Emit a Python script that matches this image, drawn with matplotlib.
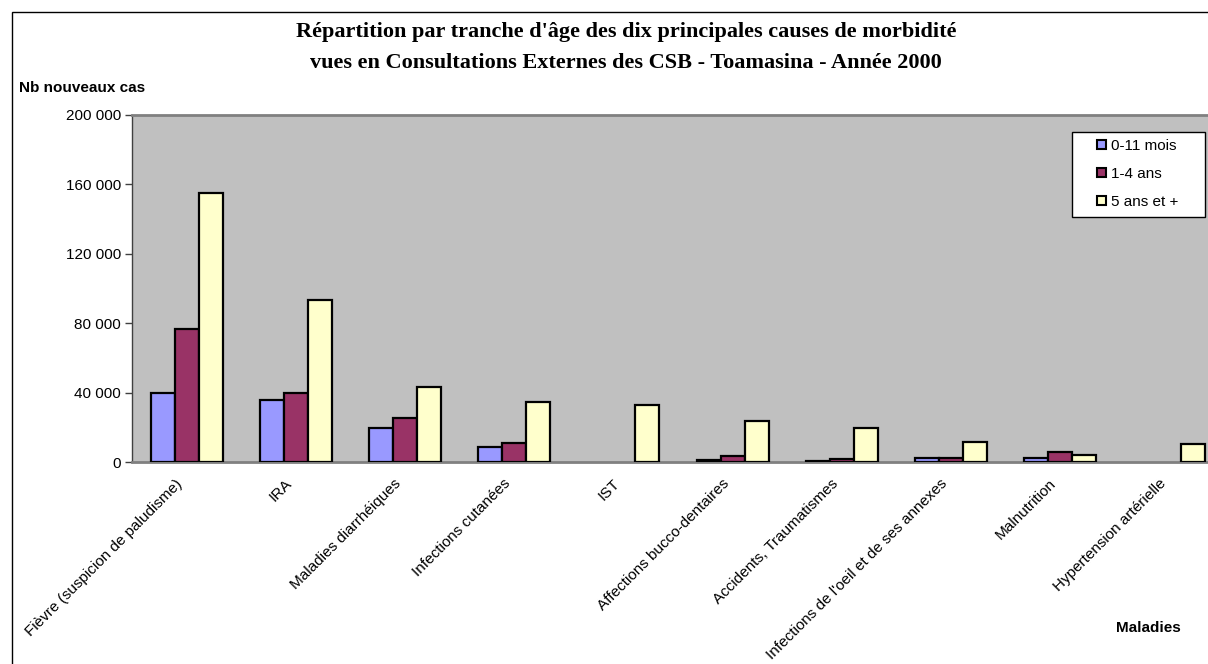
import matplotlib
matplotlib.use("Agg")
import matplotlib.pyplot as plt
import numpy as np
from matplotlib.patches import Rectangle
from matplotlib.transforms import ScaledTranslation

# data
maladies = [
    "Fièvre (suspicion de paludisme)", "IRA", "Maladies diarrhéiques",
    "Infections cutanées", "IST", "Affections bucco-dentaires",
    "Accidents, Traumatismes", "Infections de l'oeil et de ses annexes",
    "Malnutrition", "Hypertension artérielle",
]
mois_0_11 = [39800, 35800, 19700, 8400, 0, 1000, 300, 2400, 2500, 0]
ans_1_4 = [76800, 39600, 25600, 10900, 0, 3300, 1700, 2400, 5600, 0]
ans_5_plus = [155000, 93200, 43500, 34400, 32900, 23600, 19600, 11700, 3900, 10600]
series_labels = ["0-11 mois", "1-4 ans", "5 ans et +"]
y_ticks = [0, 40000, 80000, 120000, 160000, 200000]

colors = ["#9999FF", "#993366", "#FFFFCC"]
sans = "Liberation Sans"

W, H = 1208, 664
fig = plt.figure(figsize=(W / 100, H / 100), dpi=100)
fig.patch.set_facecolor("white")

# outer chart border (runs off the right and bottom edges like the original)
fig.patches.append(Rectangle((12 / W, -0.1), 1.2, 1 - 12 / H + 0.1,
                             transform=fig.transFigure, fill=False,
                             edgecolor="black", linewidth=1.0))

left, right, top, bottom = 132, 1224, 115, 462
ax = fig.add_axes([left / W, 1 - bottom / H, (right - left) / W, (bottom - top) / H])
ax.set_facecolor("#C0C0C0")

x = np.arange(len(maladies))
bw = 0.22
for i, (vals, c, lab) in enumerate(zip([mois_0_11, ans_1_4, ans_5_plus], colors, series_labels)):
    lw = [1.6 if v > 0 else 0 for v in vals]
    ax.bar(x + (i - 1) * bw, vals, width=bw, color=c, edgecolor="black",
           linewidth=lw, label=lab, zorder=3)

ax.set_xlim(-0.5, len(maladies) - 0.5)
ax.set_ylim(0, 200000)
ax.set_yticks(y_ticks)
ax.set_yticklabels([f"{v:,}".replace(",", " ") for v in y_ticks], fontsize=11, family=sans)
ax.tick_params(axis="y", length=5, width=1, color="#404040", pad=3)

ax.set_xticks(x)
ax.set_xticklabels(maladies, rotation=45, ha="right", va="center",
                   rotation_mode="anchor", fontsize=11, family=sans)
ax.tick_params(axis="x", length=0, pad=14)
shift = ScaledTranslation(-6 / 100, 0, fig.dpi_scale_trans)
for lbl in ax.get_xticklabels():
    lbl.set_transform(lbl.get_transform() + shift)

for s in ["top", "right", "bottom"]:
    ax.spines[s].set_color("#808080")
    ax.spines[s].set_linewidth(2)
ax.spines["left"].set_color("#404040")
ax.spines["left"].set_linewidth(1)

# legend: entries placed by matplotlib, frame drawn to match the original box
leg = ax.legend(loc="upper left",
                bbox_to_anchor=((1097 - left) / (right - left), (bottom - 139) / (bottom - top)),
                frameon=False, prop={"family": sans, "size": 11},
                handlelength=0.58, handleheight=0.58, handletextpad=0.35,
                labelspacing=0.92, borderpad=0, borderaxespad=0)
for h in leg.legend_handles:
    h.set_linewidth(1.5)
leg.set_zorder(6)
frame = Rectangle((1072 / W, 1 - 217 / H), 133 / W, 85 / H,
                  transform=fig.transFigure, facecolor="white",
                  edgecolor="black", linewidth=1.0, zorder=5, clip_on=False)
ax.add_artist(frame)

fig.text(626 / W, 1 - 32 / H, "Répartition par tranche d'âge des dix principales causes de morbidité",
         ha="center", va="center", fontsize=16, fontweight="bold", family="Liberation Serif")
fig.text(626 / W, 1 - 63 / H, "vues en Consultations Externes des CSB - Toamasina - Année 2000",
         ha="center", va="center", fontsize=16, fontweight="bold", family="Liberation Serif")
fig.text(19 / W, 1 - 88 / H, "Nb nouveaux cas", ha="left", va="center",
         fontsize=11, fontweight="bold", family=sans)
fig.text(1148 / W, 1 - 628 / H, "Maladies", ha="center", va="center",
         fontsize=11, fontweight="bold", family=sans)

fig.savefig("out.png", dpi=100)
plt.close(fig)
